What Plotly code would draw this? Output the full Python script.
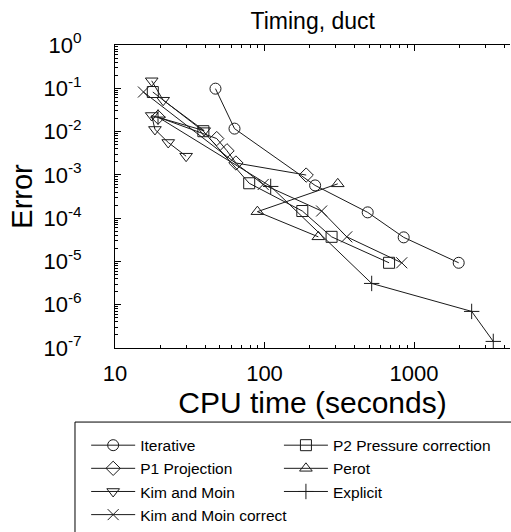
import plotly.graph_objects as go

# ---- data ----
iter_x = [47, 63, 218, 490, 853, 1990]
iter_y = [0.098, 0.0117, 5.7e-4, 1.36e-4, 3.6e-5, 9.3e-6]

p2_x = [17.9, 39, 79, 179, 281, 681]
p2_y = [0.082, 0.0102, 6.4e-4, 1.46e-4, 3.7e-5, 9.3e-6]

p1_x = [19.4, 47.9, 56.1, 64.4, 190]
p1_y = [0.0216, 0.0069, 0.0036, 0.00188, 0.00099]

perot_x = [309, 89.6, 229]
perot_y = [6.2e-4, 1.41e-4, 3.7e-5]

km_x = [17.6, 21.0, 39.5, 17.6, 18.5, 22.7, 29.9]
km_y = [0.149, 0.053, 0.0105, 0.0235, 0.0112, 0.0056, 0.0027]

expl_x = [19.4, 110, 521, 2430, 3390]
expl_y = [0.0216, 5.4e-4, 3.1e-6, 7.0e-7, 1.42e-7]

kmc_x = [15.5, 98, 241, 355, 828]
kmc_y = [0.082, 6.0e-4, 1.46e-4, 3.7e-5, 9.3e-6]

# (name, x, y, marker symbol, legend column)
series = [
    ("Iterative", iter_x, iter_y, "circle-open", "legend"),
    ("P2 Pressure correction", p2_x, p2_y, "square-open", "legend2"),
    ("P1 Projection", p1_x, p1_y, "diamond-open", "legend"),
    ("Perot", perot_x, perot_y, "triangle-up-open", "legend2"),
    ("Kim and Moin", km_x, km_y, "triangle-down-open", "legend"),
    ("Explicit", expl_x, expl_y, "cross-thin-open", "legend2"),
    ("Kim and Moin correct", kmc_x, kmc_y, "x-thin-open", "legend"),
]

x_tickvals = [10, 100, 1000]
x_ticktext = ["10", "100", "1000"]
y_exps = [0, -1, -2, -3, -4, -5, -6, -7]

FONT = "Liberation Sans, Arial, Helvetica, sans-serif"
INK = "#1a1a1a"

fig = go.Figure()
for name, xs, ys, sym, leg in series:
    fig.add_trace(go.Scatter(
        x=xs, y=ys, name=name, mode="lines+markers", legend=leg,
        line=dict(color=INK, width=1),
        marker=dict(symbol=sym, size=11, color=INK,
                    line=dict(color=INK, width=1)),
    ))

x_minor = [m * 10 ** e for e in range(1, 4) for m in range(2, 10)]
y_minor = [m * 10.0 ** e for e in range(-7, 0) for m in range(2, 10)]

legend_common = dict(
    orientation="v", yanchor="top", y=-0.266, xanchor="left",
    borderwidth=0, bgcolor="rgba(0,0,0,0)",
    font=dict(size=15.5), itemwidth=44, tracegroupgap=0,
)

fig.update_layout(
    width=511, height=532,
    margin=dict(l=115, r=1, t=45, b=176),
    paper_bgcolor="white", plot_bgcolor="white",
    font=dict(family=FONT, color="black"),
    title=dict(text="Timing, duct", x=0.612, xanchor="center",
               y=0.960, yanchor="middle", font=dict(size=23)),
    showlegend=True,
    legend=dict(x=-0.073, **legend_common),
    legend2=dict(x=0.415, **legend_common),
    shapes=[dict(type="rect", xref="paper", yref="paper",
                 x0=-0.1013, x1=1.2, y0=-0.2444, y1=-0.8,
                 line=dict(color="black", width=1), fillcolor="rgba(0,0,0,0)",
                 layer="below")],
)

fig.update_xaxes(
    type="log", range=[1, 3.642],
    tickmode="array", tickvals=x_tickvals, ticktext=x_ticktext,
    ticks="inside", ticklen=6, tickcolor="black", tickwidth=1,
    showline=True, linecolor="black", linewidth=1, mirror="ticks",
    showgrid=False, zeroline=False,
    tickfont=dict(size=22), ticklabelstandoff=6,
    minor=dict(tickmode="array", tickvals=x_minor, ticks="inside",
               ticklen=3, tickcolor="black", showgrid=False),
    title=dict(text="CPU time (seconds)", font=dict(size=30), standoff=4),
)

fig.update_yaxes(
    type="log", range=[-7, 0],
    tickmode="array", tickvals=[10.0 ** e for e in y_exps],
    ticktext=["10<sup>%d</sup>" % e for e in y_exps],
    ticks="inside", ticklen=6, tickcolor="black", tickwidth=1,
    showline=True, linecolor="black", linewidth=1, mirror=False,
    showgrid=False, zeroline=False,
    tickfont=dict(size=22), ticklabelstandoff=28,
    minor=dict(tickmode="array", tickvals=y_minor, ticks="inside",
               ticklen=3, tickcolor="black", showgrid=False),
    title=dict(text="Error", font=dict(size=29), standoff=2),
)

fig.write_html("out.html")
